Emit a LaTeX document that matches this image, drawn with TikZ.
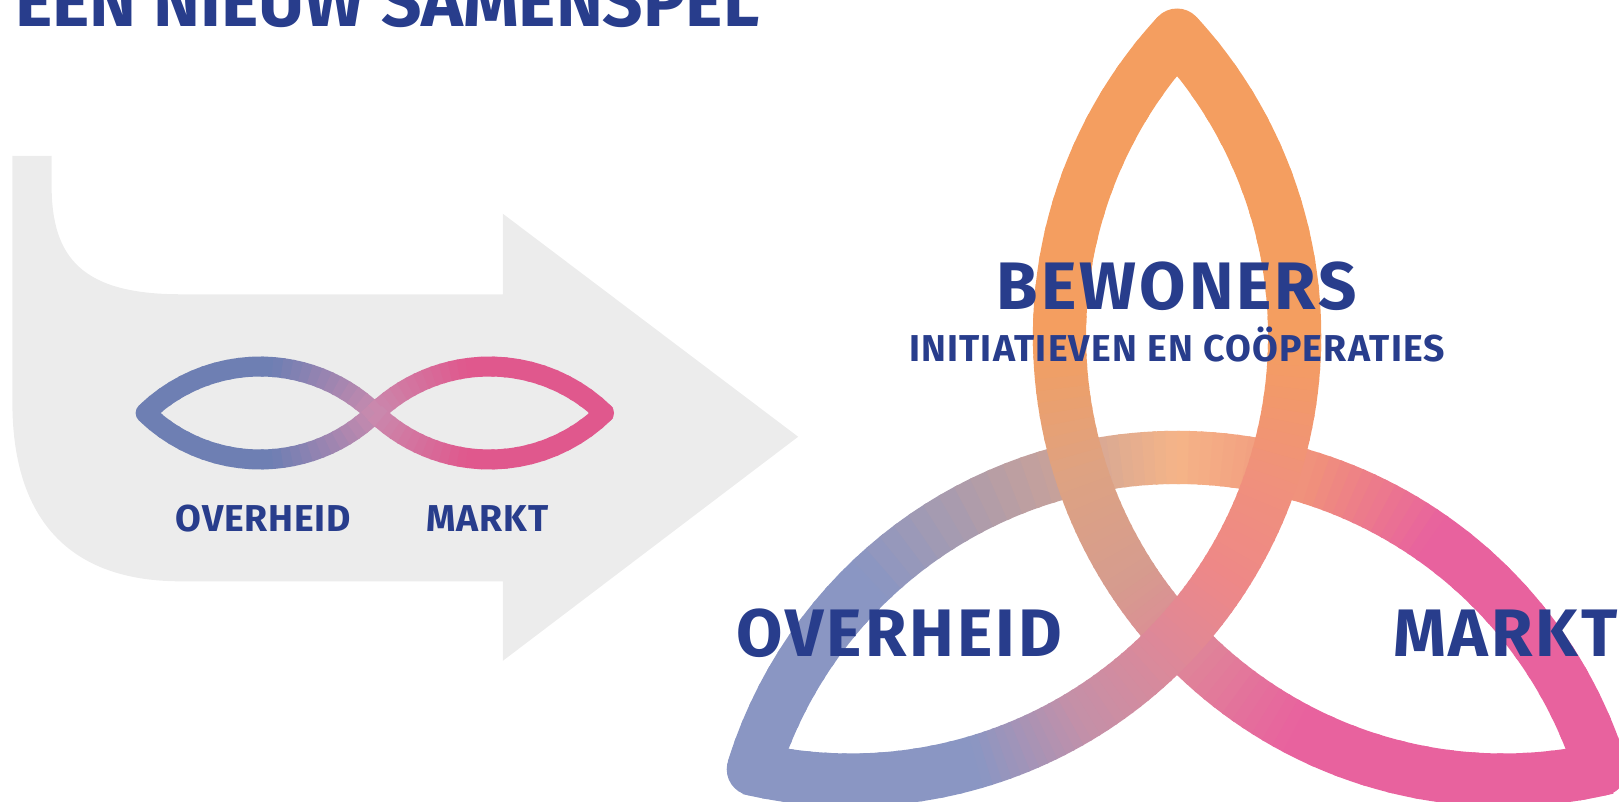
\documentclass[tikz,border=0pt]{standalone}
\usepackage{fontspec}
\setmainfont{Fira Sans}
\usepackage{tikz}

% colours
\definecolor{navy}{HTML}{283D8C}
\definecolor{arrowgray}{HTML}{ECECEC}
\definecolor{iblue}{HTML}{6E7FB3}
\definecolor{ipink}{HTML}{E0588D}
\definecolor{imid}{HTML}{C98AAE}
\definecolor{kblue}{HTML}{8A96C3}
\definecolor{korange}{HTML}{F49E60}
\definecolor{kpink}{HTML}{E8629E}
\definecolor{kpeach}{HTML}{F5B488}
\definecolor{ktan}{HTML}{DDA283}
\definecolor{krose}{HTML}{D69C8E}
\definecolor{kmauve}{HTML}{DE8898}
\definecolor{ksalmon}{HTML}{F0917B}
\definecolor{kcoral}{HTML}{EE8888}
\definecolor{klilac}{HTML}{C490A8}
\definecolor{kgrey}{HTML}{C4A09C}

% stroke along an arc, coloured from #5 to #6 in small pieces
\newcommand{\gradarc}[6]{%
  \foreach \k in {1,...,12}{%
    \pgfmathsetmacro{\arcA}{#3+(#4-#3)*(\k-1)/12}%
    \pgfmathsetmacro{\arcB}{#3+(#4-#3)*(\k+0.25)/12}%
    \pgfmathtruncatemacro{\arcP}{round(100*(\k-0.5)/12)}%
    \draw[draw=#6!\arcP!#5] (#1) ++(\arcA:#2) arc[start angle=\arcA, end angle=\arcB, radius=#2];
  }%
}

\begin{document}
\begin{tikzpicture}[x=0.01cm, y=-0.01cm,
    bigname/.style={font=\bfseries\fontsize{18.5}{20}\selectfont\addfontfeatures{LetterSpace=4.5}, text=navy, inner sep=0, anchor=base},
    smallname/.style={font=\bfseries\fontsize{10.3}{12}\selectfont\addfontfeatures{LetterSpace=2.2}, text=navy, inner sep=0, anchor=base}]
                \useasboundingbox (0,0) rectangle (1568,776);

                % Title (cut off at the top)
                \node[anchor=base west, inner sep=0, text=navy, font=\bfseries\fontsize{19.5}{22}\selectfont] (title) at (14,26) {EEN NIEUW SAMENSPEL};

                % Grey arrow
                \fill[arrowgray] (12,151) -- (50,151) -- (50,180) .. controls (50,250) and (80,285) .. (175,285) -- (487,285) -- (487,207) -- (773,423) -- (487,640) -- (487,563) -- (175,563) .. controls (60,563) and (12,495) .. (12,390) -- cycle;

                % Infinity sign - two lenses meeting at (363,400)
                \coordinate (ILt) at (252,514.4);
                \coordinate (ILb) at (252,285.6);
                \coordinate (IRt) at (474,514.4);
                \coordinate (IRb) at (474,285.6);
                \coordinate (ItipL) at (141,400);
                \coordinate (ItipR) at (585,400);
                \fill[iblue] (ItipL) circle[radius=2.75pt];
                \fill[ipink] (ItipR) circle[radius=2.75pt];
                \begin{scope}[line width=5.5pt]
                    \gradarc{ILt}{159.4}{225.9}{274.3}{iblue}{iblue}
                    \gradarc{ILt}{159.4}{274.3}{314.1}{iblue}{imid}
                    \gradarc{ILb}{159.4}{134.1}{85.7}{iblue}{iblue}
                    \gradarc{ILb}{159.4}{85.7}{45.9}{iblue}{imid}
                    \gradarc{IRt}{159.4}{225.9}{262.1}{imid}{ipink}
                    \gradarc{IRt}{159.4}{262.1}{314.1}{ipink}{ipink}
                    \gradarc{IRb}{159.4}{134.1}{97.9}{imid}{ipink}
                    \gradarc{IRb}{159.4}{97.9}{45.9}{ipink}{ipink}
                \end{scope}
                \node[smallname] (overheidsmall) at (255,515) {OVERHEID};
                \node[smallname] (marktsmall) at (472,515) {MARKT};

                % Triquetra - three arcs of radius 430 round C = (1140,508)
                \coordinate (K1) at (1140,873);
                \coordinate (K2) at (1456.1,325.5);
                \coordinate (K3) at (823.9,325.5);
                \coordinate (T) at (1140,33.9);
                \coordinate (L) at (729.5,745);
                \coordinate (R) at (1550.5,745);
                \fill[korange] (T) circle[radius=7.3pt];
                \fill[kblue] (L) circle[radius=7.3pt];
                \fill[kpink] (R) circle[radius=7.3pt];
                \begin{scope}[line width=14.65pt]
                    % L to R over the top
                    \gradarc{K1}{430}{197.3}{226.4}{kblue}{kblue}
                    \gradarc{K1}{430}{226.4}{252.6}{kblue}{kgrey}
                    \gradarc{K1}{430}{252.6}{270}{kgrey}{kpeach}
                    \gradarc{K1}{430}{270}{287.5}{kpeach}{ksalmon}
                    \gradarc{K1}{430}{287.5}{304.9}{ksalmon}{kpink}
                    \gradarc{K1}{430}{304.9}{342.7}{kpink}{kpink}
                    % T to R
                    \gradarc{K2}{430}{222.7}{179.1}{korange}{korange}
                    \gradarc{K2}{430}{179.1}{161.6}{korange}{ktan}
                    \gradarc{K2}{430}{161.6}{147.1}{ktan}{krose}
                    \gradarc{K2}{430}{147.1}{135.5}{krose}{kmauve}
                    \gradarc{K2}{430}{135.5}{118.0}{kmauve}{kpink}
                    \gradarc{K2}{430}{118.0}{77.3}{kpink}{kpink}
                    % T to L
                    \gradarc{K3}{430}{317.3}{360.9}{korange}{korange}
                    \gradarc{K3}{430}{360.9}{378.4}{korange}{ksalmon}
                    \gradarc{K3}{430}{378.4}{392.9}{ksalmon}{kcoral}
                    \gradarc{K3}{430}{392.9}{404.5}{kcoral}{kmauve}
                    \gradarc{K3}{430}{404.5}{419.1}{kmauve}{klilac}
                    \gradarc{K3}{430}{419.1}{433.6}{klilac}{kblue}
                    \gradarc{K3}{430}{433.6}{462.7}{kblue}{kblue}
                \end{scope}

                % Labels
                \node[bigname] (bewoners) at (1140,300) {BEWONERS};
                \node[smallname, font=\bfseries\fontsize{10.3}{12}\selectfont\addfontfeatures{LetterSpace=3.3}] (initiatieven) at (1140,350) {INITIATIEVEN EN COÖPERATIES};
                \node[bigname] (overheid) at (871,636) {OVERHEID};
                \node[bigname] (markt) at (1458,636) {MARKT};
\end{tikzpicture}
\end{document}
